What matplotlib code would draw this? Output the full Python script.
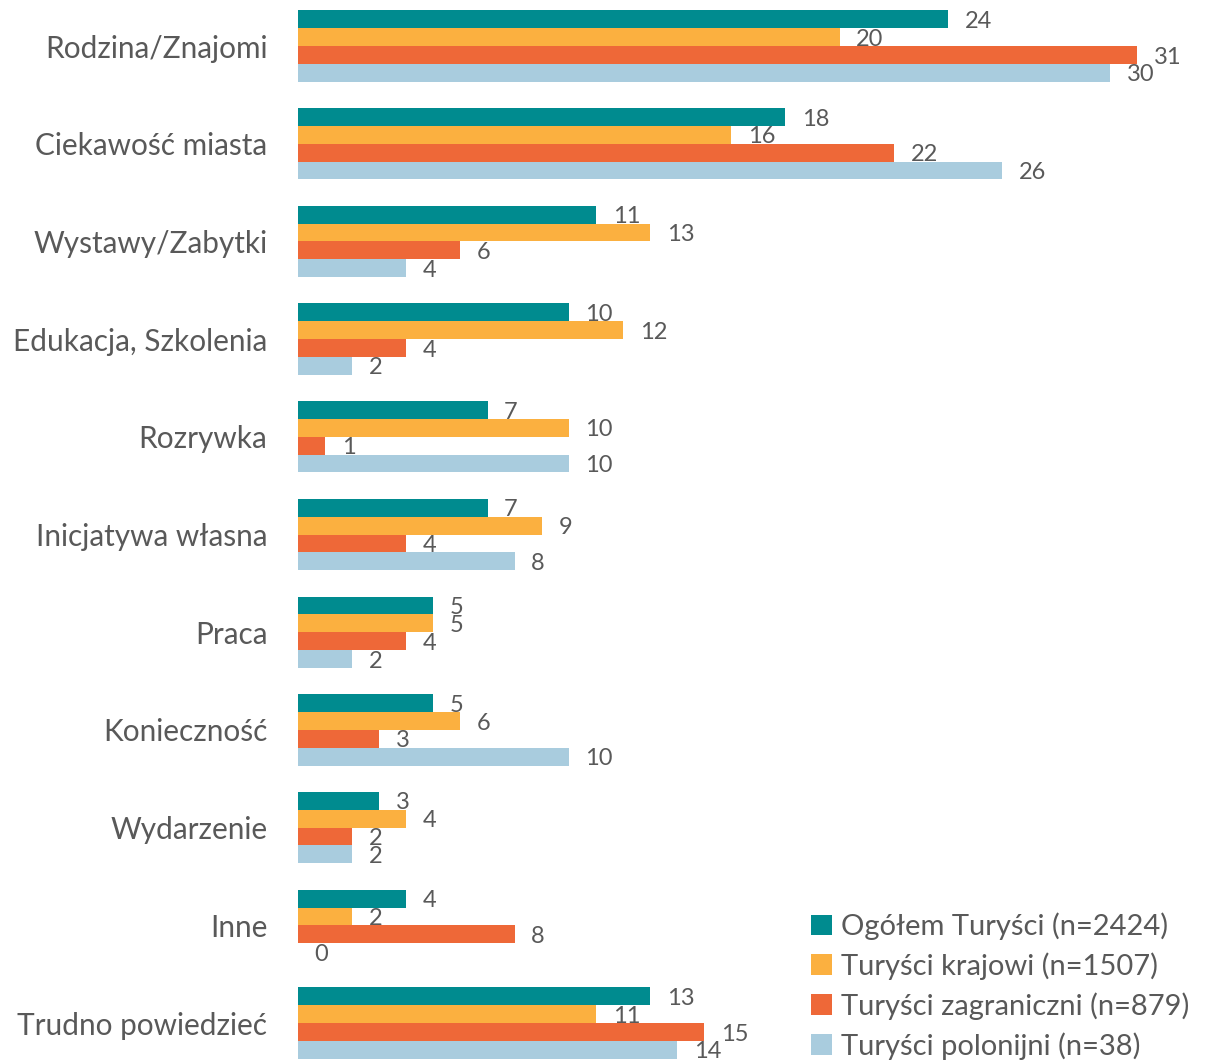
import matplotlib

matplotlib.use("Agg")
import matplotlib.pyplot as plt
import numpy as np

categories = [
    "Rodzina/Znajomi",
    "Ciekawość miasta",
    "Wystawy/Zabytki",
    "Edukacja, Szkolenia",
    "Rozrywka",
    "Inicjatywa własna",
    "Praca",
    "Konieczność",
    "Wydarzenie",
    "Inne",
    "Trudno powiedzieć",
]
series_names = [
    "Ogółem Turyści (n=2424)",
    "Turyści krajowi (n=1507)",
    "Turyści zagraniczni (n=879)",
    "Turyści polonijni (n=38)",
]
ogolem = [24, 18, 11, 10, 7, 7, 5, 5, 3, 4, 13]
krajowi = [20, 16, 13, 12, 10, 9, 5, 6, 4, 2, 11]
zagraniczni = [31, 22, 6, 4, 1, 4, 4, 3, 2, 8, 15]
polonijni = [30, 26, 4, 2, 10, 8, 2, 10, 2, 0, 14]

colors = ["#008B8F", "#FBB040", "#EE6838", "#A9CCDE"]
text_color = "#595959"

plt.rcParams["font.family"] = ["Lato", "DejaVu Sans"]

fig = plt.figure(figsize=(12.07, 10.63), dpi=100)
ax = fig.add_axes([298 / 1207, 0, 909 / 1207, 1])

y = np.arange(len(categories))
bar_h = 0.1825
for i, (vals, name, col) in enumerate(
    zip([ogolem, krajowi, zagraniczni, polonijni], series_names, colors)
):
    pos = y + (i - 1.5) * bar_h
    bars = ax.barh(pos, vals, height=bar_h, color=col, label=name, linewidth=0)
    for b, v in zip(bars, vals):
        ax.annotate(
            f"{v}",
            (b.get_width(), b.get_y() + b.get_height() / 2),
            xytext=(12, -1.5),
            textcoords="offset points",
            ha="left",
            va="center",
            fontsize=17,
            color=text_color,
        )

ax.set_xlim(0, 909 / 27.08)
ax.set_ylim(10.409, -0.471)
ax.set_yticks(y)
ax.set_yticklabels(categories, fontsize=21.4, color=text_color)
ax.tick_params(axis="y", length=0, pad=22)
ax.set_xticks([])
for s in ax.spines.values():
    s.set_visible(False)

leg = fig.legend(
    loc="lower left",
    bbox_to_anchor=(791 / 1207, -0.016),
    frameon=False,
    fontsize=21,
    handlelength=0.7,
    handleheight=0.7,
    handletextpad=0.3,
    labelspacing=0.42,
    borderpad=0.2,
)
for t in leg.get_texts():
    t.set_color(text_color)

fig.savefig("out.png", dpi=100)
